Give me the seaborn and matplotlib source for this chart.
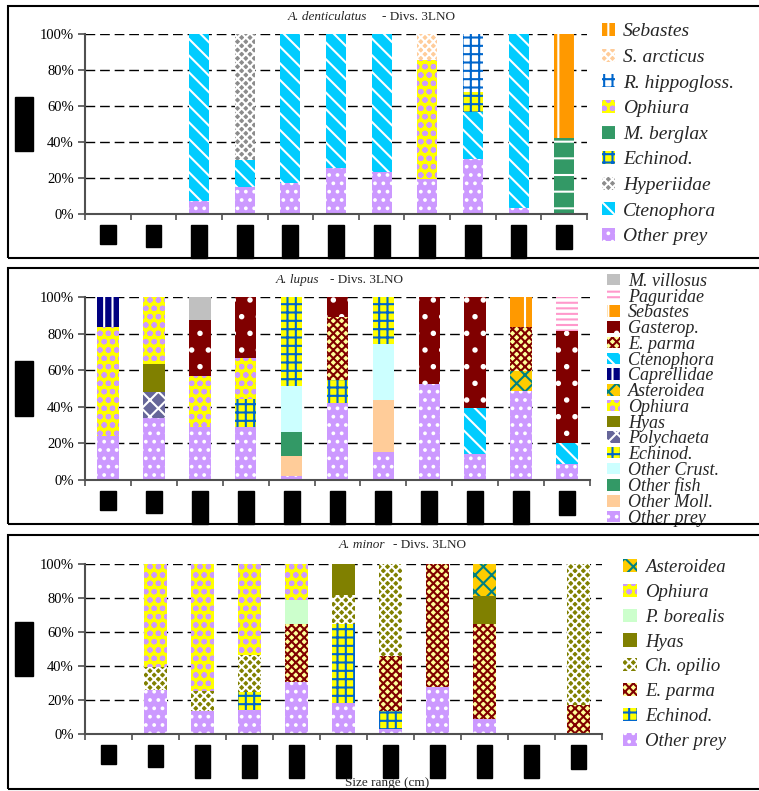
import numpy as np
import matplotlib
matplotlib.use("Agg")
import matplotlib.pyplot as plt
from matplotlib.patches import Patch, Rectangle
import seaborn as sns

sns.set_style("white")
plt.rcParams["font.family"] = ["Liberation Serif", "DejaVu Serif"]
plt.rcParams["hatch.linewidth"] = 1.5

# size classes (cm)
sizes = ["<5", "5-9", "10-14", "15-19", "20-24", "25-29",
         "30-34", "35-39", "40-44", "45-49", "50+"]

# --- A. denticulatus, % weight of each prey, stacked bottom -> top
den_other_prey = [0, 0, 7, 15, 17.5, 25.7, 23.5, 19.5, 30.7, 3.3, 0]
den_ctenophora = [0, 0, 93, 15, 82.5, 74.3, 76.5, 0, 26, 96.7, 0]
den_hyperiidae = [0, 0, 0, 70, 0, 0, 0, 0, 0, 0, 0]
den_echinod = [0, 0, 0, 0, 0, 0, 0, 0, 11.2, 0, 0]
den_berglax = [0, 0, 0, 0, 0, 0, 0, 0, 0, 0, 42.4]
den_ophiura = [0, 0, 0, 0, 0, 0, 0, 66.2, 0, 0, 0]
den_hippogloss = [0, 0, 0, 0, 0, 0, 0, 0, 32, 0, 0]
den_arcticus = [0, 0, 0, 0, 0, 0, 0, 14.3, 0, 0, 0]
den_sebastes = [0, 0, 0, 0, 0, 0, 0, 0, 0, 0, 57.6]

# --- A. lupus
lup_other_prey = [24.3, 33.8, 29.2, 28.8, 2.2, 42.3, 15.5, 52.5, 14.2, 48.7, 8.8]
lup_other_moll = [0, 0, 0, 0, 10.9, 0, 28.3, 0, 0, 0, 0]
lup_other_fish = [0, 0, 0, 0, 13.3, 0, 0, 0, 0, 0, 0]
lup_other_crust = [0, 0, 0, 0, 25.1, 0, 30.6, 0, 0, 0, 0]
lup_echinod = [0, 0, 0, 15.5, 48.5, 12.4, 25.6, 0, 0, 0, 0]
lup_polychaeta = [0, 14.4, 0, 0, 0, 0, 0, 0, 0, 0, 0]
lup_hyas = [0, 15.3, 0, 0, 0, 0, 0, 0, 0, 0, 0]
lup_ophiura = [59.1, 36.5, 27.7, 22.3, 0, 0, 0, 0, 0, 0, 0]
lup_asteroidea = [0, 0, 0, 0, 0, 0, 0, 0, 0, 11, 0]
lup_caprellidae = [16.6, 0, 0, 0, 0, 0, 0, 0, 0, 0, 0]
lup_ctenophora = [0, 0, 0, 0, 0, 0, 0, 0, 25, 0, 11.5]
lup_parma = [0, 0, 0, 0, 0, 34.1, 0, 0, 0, 23.9, 0]
lup_gasterop = [0, 0, 30.3, 33.4, 0, 11.2, 0, 47.5, 60.8, 0, 61.3]
lup_sebastes = [0, 0, 0, 0, 0, 0, 0, 0, 0, 16.4, 0]
lup_paguridae = [0, 0, 0, 0, 0, 0, 0, 0, 0, 0, 18.4]
lup_villosus = [0, 0, 12.8, 0, 0, 0, 0, 0, 0, 0, 0]

# --- A. minor
min_other_prey = [0, 26, 13.7, 14.3, 30.8, 18.2, 2.7, 27.7, 8.6, 0, 0]
min_echinod = [0, 0, 0, 10.7, 0, 46.4, 11, 0, 0, 0, 0]
min_parma = [0, 0, 0, 0, 34.2, 0, 32.2, 72.3, 56, 0, 16.8]
min_opilio = [0, 13.6, 11.7, 21.3, 0, 16.9, 54.1, 0, 0, 0, 83.2]
min_hyas = [0, 0, 0, 0, 0, 18.5, 0, 0, 16.6, 0, 0]
min_borealis = [0, 0, 0, 0, 14.1, 0, 0, 0, 0, 0, 0]
min_ophiura = [0, 60.4, 74.6, 53.7, 20.9, 0, 0, 0, 0, 0, 0]
min_asteroidea = [0, 0, 0, 0, 0, 0, 0, 0, 18.8, 0, 0]

denticulatus = {
    "Other prey": den_other_prey, "Ctenophora": den_ctenophora,
    "Hyperiidae": den_hyperiidae, "Echinod.": den_echinod,
    "M. berglax": den_berglax, "Ophiura": den_ophiura,
    "R. hippogloss.": den_hippogloss, "S. arcticus": den_arcticus,
    "Sebastes": den_sebastes,
}
lupus = {
    "Other prey": lup_other_prey, "Other Moll.": lup_other_moll,
    "Other fish": lup_other_fish, "Other Crust.": lup_other_crust,
    "Echinod.": lup_echinod, "Polychaeta": lup_polychaeta, "Hyas": lup_hyas,
    "Ophiura": lup_ophiura, "Asteroidea": lup_asteroidea,
    "Caprellidae": lup_caprellidae, "Ctenophora": lup_ctenophora,
    "E. parma": lup_parma, "Gasterop.": lup_gasterop, "Sebastes": lup_sebastes,
    "Paguridae": lup_paguridae, "M. villosus": lup_villosus,
}
minor = {
    "Other prey": min_other_prey, "Echinod.": min_echinod,
    "E. parma": min_parma, "Ch. opilio": min_opilio, "Hyas": min_hyas,
    "P. borealis": min_borealis, "Ophiura": min_ophiura,
    "Asteroidea": min_asteroidea,
}

# face colour, hatch, hatch colour
styles = {
    "Other prey": ("#CC99FF", "..", "white"),
    "Ctenophora": ("#00CCFF", "\\\\", "white"),
    "Hyperiidae": ("#8C8C8C", "xxxx", "white"),
    "Echinod.": ("#FFFF00", "++", "#0066CC"),
    "M. berglax": ("#339966", "-", "white"),
    "Ophiura": ("#FFFF00", "oo", "#CC99FF"),
    "R. hippogloss.": ("white", "++", "#0066CC"),
    "S. arcticus": ("#FFCC99", "xxxx", "white"),
    "Sebastes": ("#FF9900", "|", "white"),
    "Other Moll.": ("#FFCC99", "", "#FFCC99"),
    "Other fish": ("#339966", "", "#339966"),
    "Other Crust.": ("#CCFFFF", "", "#CCFFFF"),
    "Polychaeta": ("#666699", "xx", "white"),
    "Hyas": ("#808000", "", "#808000"),
    "Asteroidea": ("#FFCC00", "xx", "#008080"),
    "Caprellidae": ("#000080", "||", "white"),
    "E. parma": ("#FFFF99", "xxxx", "#800000"),
    "Gasterop.": ("#800000", ".", "white"),
    "Paguridae": ("white", "---", "#FF99CC"),
    "M. villosus": ("#C0C0C0", "", "#C0C0C0"),
    "Ch. opilio": ("#808000", "xxxx", "white"),
    "P. borealis": ("#CCFFCC", "", "#CCFFCC"),
}

W, H = 759, 791
fig = plt.figure(figsize=(W / 100, H / 100), dpi=100)


def px(l, t, r, b):
    return [l / W, 1 - b / H, (r - l) / W, (b - t) / H]


def draw_panel(rect, data, bar_width, species, title_pos, leg):
    ax = fig.add_axes(px(*rect))
    bottom = np.zeros(len(sizes))
    for name, vals in data.items():
        fc, hatch, hc = styles[name]
        sns.barplot(x=sizes, y=vals, order=sizes, ax=ax, color=fc,
                    saturation=1, errorbar=None, width=bar_width,
                    bottom=bottom, edgecolor=hc, linewidth=0, hatch=hatch)
        bottom = bottom + np.array(vals)

    ax.set_xlim(-0.5, len(sizes) - 0.5)
    ax.set_ylim(0, 100)
    ax.set_yticks(range(0, 101, 20))
    ax.set_yticklabels([f"{v}%" for v in range(0, 101, 20)], fontsize=10.5,
                       color="black")
    ax.yaxis.grid(True, color="black", linestyle=(0, (7, 3.5)), linewidth=1)
    ax.set_axisbelow(True)
    for s in ["top", "right"]:
        ax.spines[s].set_visible(False)
    for s in ["left", "bottom"]:
        ax.spines[s].set_color("#505050")
        ax.spines[s].set_linewidth(1.5)

    ax.set_xticks(range(len(sizes)))
    ax.set_xticks(np.arange(-0.5, len(sizes)), minor=True)
    ax.tick_params(axis="x", which="major", bottom=False, pad=7)
    ax.tick_params(axis="x", which="minor", bottom=True, length=4,
                   width=1.2, color="#505050", direction="out")
    ax.tick_params(axis="y", left=True, length=5, width=1.2,
                   color="#505050", direction="out", pad=3)
    labels = ax.set_xticklabels(sizes, rotation=90, fontsize=8, color="black")
    for lab in labels:
        lab.set_bbox(dict(facecolor="black", edgecolor="black", pad=2.5))
    ax.set_xlabel("")
    ax.set_ylabel("% Weight", fontsize=9, va="center", color="black",
                  bbox=dict(facecolor="black", edgecolor="black", pad=2))
    ax.yaxis.set_label_coords((24 - rect[0]) / (rect[2] - rect[0]), 0.5)

    # title: species name in italics, then the division
    sx, ty, dx = title_pos
    fig.text(sx / W, 1 - ty / H, species, style="italic", fontsize=9.5,
             ha="right", va="center")
    fig.text(dx / W, 1 - ty / H, "- Divs. 3LNO", fontsize=9.5, va="center")

    names = list(data.keys())[::-1]
    handles = [Patch(facecolor=styles[n][0], edgecolor=styles[n][2],
                     hatch=styles[n][1], linewidth=0) for n in names]
    lx, ly, fs, lsp, hl, hh, tp = leg
    ax.legend(handles, names, loc="upper left",
              bbox_to_anchor=(lx / W, 1 - ly / H), bbox_transform=fig.transFigure,
              frameon=False, borderpad=0, borderaxespad=0,
              handlelength=hl, handleheight=hh, handletextpad=tp,
              labelspacing=lsp, prop=dict(style="italic", size=fs))
    return ax


draw_panel((85, 34, 587, 214), denticulatus, 0.44, "A. denticulatus",
           (367, 17, 382), (602, 23, 14, 0.42, 0.67, 0.67, 0.41))
draw_panel((85, 297, 590, 480), lupus, 0.47, "A. lupus",
           (319, 280, 330), (607, 273, 13, -0.07, 0.72, 0.6, 0.44))
draw_panel((85, 564, 602, 734), minor, 0.48, "A. minor",
           (385, 545, 393), (623, 559, 13.5, 0.41, 0.75, 0.7, 0.43))

fig.text(387 / W, 1 - 783 / H, "Size range (cm)", ha="center", va="center",
         fontsize=9.5)

# panel frames
for top, bottom in [(6, 258), (268, 524), (535, 789)]:
    fig.add_artist(Rectangle((8 / W, 1 - bottom / H), (W + 5 - 8) / W,
                             (bottom - top) / H, transform=fig.transFigure,
                             fill=False, edgecolor="black", linewidth=1.5))

fig.savefig("out.png", dpi=100)
